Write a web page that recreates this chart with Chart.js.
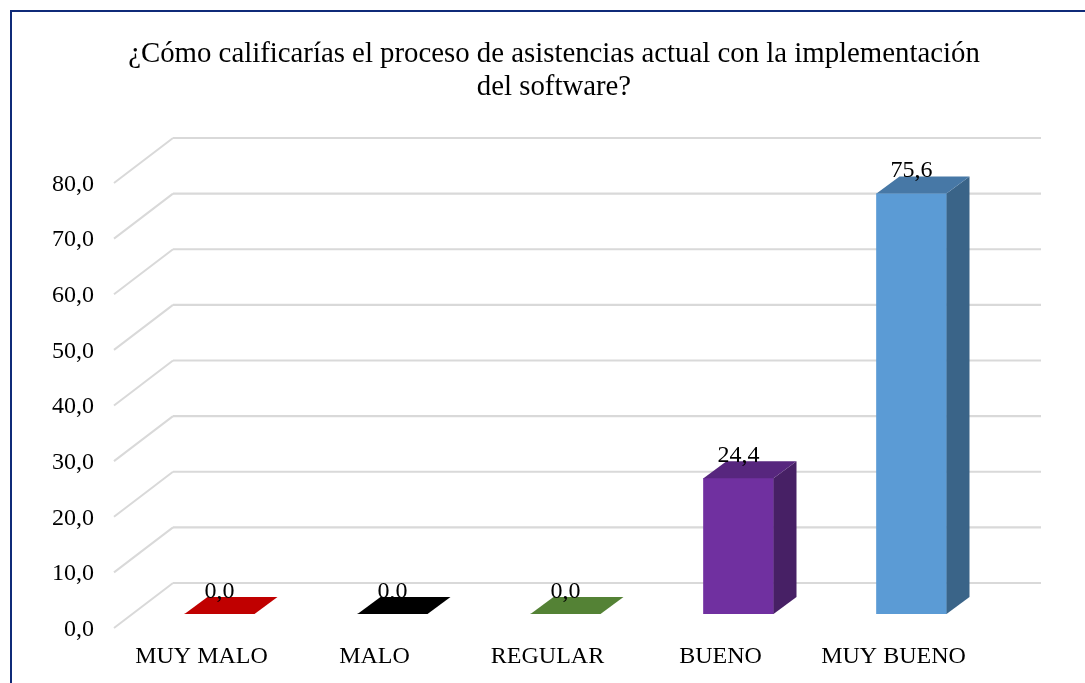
<!DOCTYPE html>
<html>
<head>
<meta charset="utf-8">
<script src="https://cdn.jsdelivr.net/npm/chart.js@4/dist/chart.umd.min.js"></script>
<style>
  html, body { margin: 0; padding: 0; background: #fff; overflow: hidden; }
  #wrap { position: relative; width: 1085px; height: 683px; }
  #frame { position: absolute; left: 10px; top: 10px; right: -10px; bottom: -10px; border: 2px solid #0F2A78; pointer-events: none; }
</style>
</head>
<body>
<div id="wrap">
  <canvas id="chart" width="1085" height="683"></canvas>
  <div id="frame"></div>
</div>
<script>
const categories = ["MUY MALO", "MALO", "REGULAR", "BUENO", "MUY BUENO"];
const values = [0.0, 0.0, 0.0, 24.4, 75.6];
const frontColors = ["#C00000", "#000000", "#548235", "#7030A0", "#5B9BD5"];
const topColors = ["#C00000", "#000000", "#548235", "#57267E", "#4778A6"];
const sideColors = ["#8C0000", "#000000", "#3E6027", "#472065", "#3A6488"];
const titleLines = [
  "¿Cómo calificarías el proceso de asistencias actual con la implementación",
  "del software?"
];

const FONT = "'Liberation Serif', 'Times New Roman', serif";
const comma = (v) => v.toFixed(1).replace(".", ",");

// depth of the bars and of the chart floor, the library has no 3D bars
const barDepthX = 23;
const barDepthY = 17;
const wallShiftX = 40;
const wallShiftY = 31;
const wallRightX = 1041;
const floorFrontX = 114;
const floorFrontY = 14;

function poly(ctx, pts, color) {
  ctx.fillStyle = color;
  ctx.beginPath();
  pts.forEach((p, i) => (i ? ctx.lineTo(p[0], p[1]) : ctx.moveTo(p[0], p[1])));
  ctx.closePath();
  ctx.fill();
}

const wallAndDepth = {
  id: "wallAndDepth",
  beforeDatasetsDraw(chart) {
    const { ctx, chartArea, scales } = chart;
    const backX = chartArea.left + wallShiftX;
    ctx.save();
    ctx.strokeStyle = "#D9D9D9";
    scales.y.ticks.forEach((t) => {
      const py = scales.y.getPixelForValue(t.value);
      ctx.lineWidth = 2.2;
      ctx.beginPath();
      ctx.moveTo(backX, py - wallShiftY);
      ctx.lineTo(wallRightX, py - wallShiftY);
      ctx.stroke();
      ctx.lineWidth = 2;
      ctx.beginPath();
      ctx.moveTo(floorFrontX, py + floorFrontY);
      ctx.lineTo(backX, py - wallShiftY);
      ctx.stroke();
    });
    ctx.restore();
  },
  afterDatasetsDraw(chart) {
    const { ctx } = chart;
    const meta = chart.getDatasetMeta(0);
    ctx.save();
    meta.data.forEach((bar, i) => {
      const l = bar.x - bar.width / 2;
      const r = bar.x + bar.width / 2;
      poly(ctx, [[r, bar.y], [r + barDepthX, bar.y - barDepthY], [r + barDepthX, bar.base - barDepthY], [r, bar.base]], sideColors[i]);
      poly(ctx, [[l, bar.y], [l + barDepthX, bar.y - barDepthY], [r + barDepthX, bar.y - barDepthY], [r, bar.y]], topColors[i]);
    });
    // data labels sit over the top face
    ctx.fillStyle = "#000";
    ctx.font = "24px " + FONT;
    ctx.textAlign = "center";
    ctx.textBaseline = "middle";
    meta.data.forEach((bar, i) => {
      ctx.fillText(comma(values[i]), bar.x, bar.y - 22.5);
    });
    ctx.restore();
  }
};

new Chart(document.getElementById("chart"), {
  type: "bar",
  data: {
    labels: categories,
    datasets: [{
      data: values,
      backgroundColor: frontColors,
      borderWidth: 0,
      barThickness: 70
    }]
  },
  options: {
    responsive: false,
    animation: false,
    layout: { padding: { left: 23, right: 0, top: 0, bottom: 0 } },
    plugins: {
      legend: { display: false },
      tooltip: { enabled: false },
      title: {
        display: true,
        text: titleLines,
        color: "#000",
        font: { family: FONT, size: 28.8, weight: "normal", lineHeight: 1.146 },
        padding: { top: 37.5, bottom: 65.5 }
      }
    },
    scales: {
      x: {
        grid: { display: false, drawTicks: false },
        border: { display: false },
        ticks: {
          color: "#000",
          font: { family: FONT, size: 24 },
          labelOffset: -18,
          padding: 28,
          maxRotation: 0,
          autoSkip: false
        },
        afterFit(scale) { scale.height = 69; }
      },
      y: {
        min: 0,
        max: 80,
        grid: { display: false, drawTicks: false },
        border: { display: false },
        ticks: {
          stepSize: 10,
          color: "#000",
          font: { family: FONT, size: 24 },
          labelOffset: 15.5,
          padding: 39,
          callback: (v) => comma(v)
        },
        afterFit(scale) { scale.width = 110; }
      },
      // empty axis, only keeps the plot short of the right edge
      yRight: {
        position: "right",
        grid: { display: false, drawTicks: false },
        border: { display: false },
        ticks: { display: false },
        afterFit(scale) { scale.width = 87; }
      }
    }
  },
  plugins: [wallAndDepth]
});
</script>
</body>
</html>
